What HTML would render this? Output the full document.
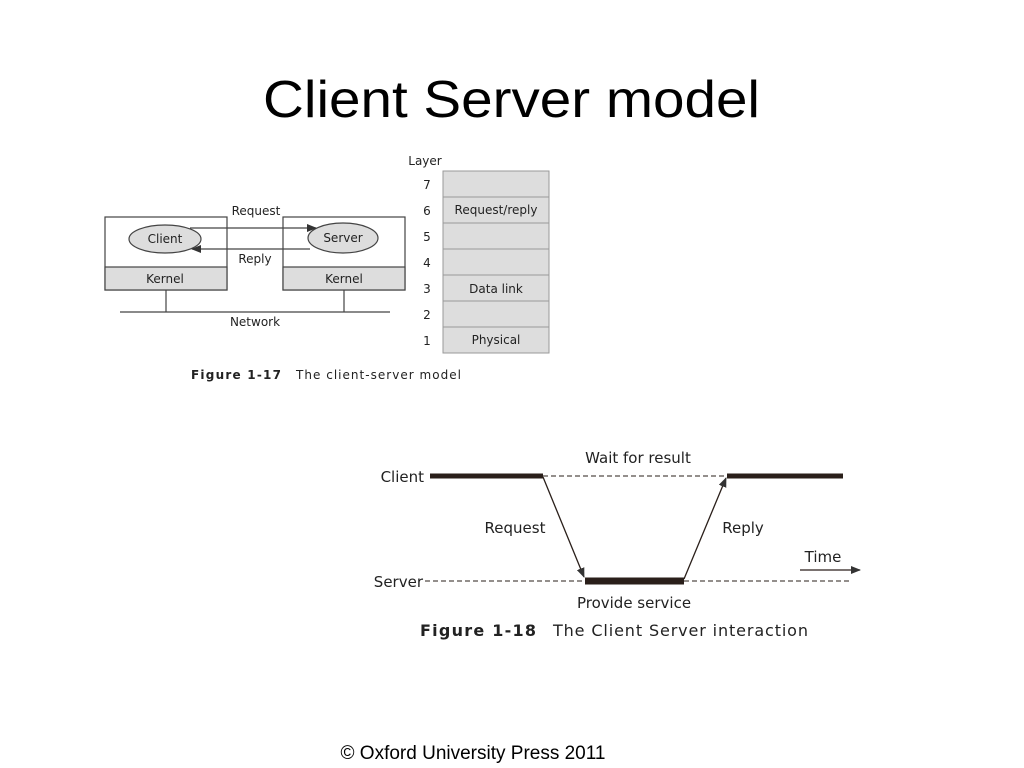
<!DOCTYPE html>
<html><head><meta charset="utf-8"><style>
html,body{margin:0;padding:0;background:#fff;width:1024px;height:768px;overflow:hidden}
svg{display:block}
text{font-family:"DejaVu Sans","Liberation Sans",sans-serif;fill:#222}
</style></head><body>
<svg width="1024" height="768" viewBox="0 0 1024 768">
<defs>
<marker id="ah" markerWidth="10" markerHeight="8" refX="9" refY="4" orient="auto" markerUnits="userSpaceOnUse"><path d="M0,0 L10,4 L0,8 z" fill="#333"/></marker>
</defs>
<text x="263" y="117" textLength="497" lengthAdjust="spacingAndGlyphs" style="font-family:'Liberation Sans',sans-serif;font-size:52px;fill:#000">Client Server model</text>

<!-- Figure 1-17 -->
<g stroke="#444" stroke-width="1.2">
<rect x="105" y="217" width="122" height="73" fill="#fff"/>
<rect x="105" y="267" width="122" height="23" fill="#ddd"/>
<rect x="283" y="217" width="122" height="73" fill="#fff"/>
<rect x="283" y="267" width="122" height="23" fill="#ddd"/>
<ellipse cx="165" cy="239" rx="36" ry="14" fill="#ddd"/>
<ellipse cx="343" cy="238" rx="35" ry="15" fill="#ddd"/>
<line x1="190" y1="228" x2="316" y2="228" marker-end="url(#ah)"/>
<line x1="310" y1="249" x2="192" y2="249" marker-end="url(#ah)"/>
<line x1="120" y1="312" x2="390" y2="312"/>
<line x1="166" y1="290" x2="166" y2="312"/>
<line x1="344" y1="290" x2="344" y2="312"/>
</g>
<g font-size="12">
<text x="165" y="243" text-anchor="middle">Client</text>
<text x="343" y="242" text-anchor="middle">Server</text>
<text x="165" y="283" text-anchor="middle">Kernel</text>
<text x="344" y="283" text-anchor="middle">Kernel</text>
<text x="256" y="215" text-anchor="middle">Request</text>
<text x="255" y="263" text-anchor="middle">Reply</text>
<text x="255" y="326" text-anchor="middle">Network</text>
<text x="425" y="165" text-anchor="middle">Layer</text>
</g>
<g stroke="#999" stroke-width="1" fill="#ddd">
<rect x="443" y="171" width="106" height="26"/>
<rect x="443" y="197" width="106" height="26"/>
<rect x="443" y="223" width="106" height="26"/>
<rect x="443" y="249" width="106" height="26"/>
<rect x="443" y="275" width="106" height="26"/>
<rect x="443" y="301" width="106" height="26"/>
<rect x="443" y="327" width="106" height="26"/>
</g>
<g font-size="12">
<text x="427" y="189" text-anchor="middle">7</text>
<text x="427" y="215" text-anchor="middle">6</text>
<text x="427" y="241" text-anchor="middle">5</text>
<text x="427" y="267" text-anchor="middle">4</text>
<text x="427" y="293" text-anchor="middle">3</text>
<text x="427" y="319" text-anchor="middle">2</text>
<text x="427" y="345" text-anchor="middle">1</text>
<text x="496" y="214" text-anchor="middle">Request/reply</text>
<text x="496" y="293" text-anchor="middle">Data link</text>
<text x="496" y="344" text-anchor="middle">Physical</text>
</g>
<text x="191" y="379" font-size="12" font-weight="bold" textLength="90" lengthAdjust="spacing">Figure 1-17</text>
<text x="296" y="379" font-size="12" textLength="165" lengthAdjust="spacing">The client-server model</text>

<!-- Figure 1-18 -->
<g stroke="#2a1f1a">
<line x1="430" y1="476" x2="543" y2="476" stroke-width="5"/>
<line x1="727" y1="476" x2="843" y2="476" stroke-width="5"/>
<line x1="585" y1="581" x2="684" y2="581" stroke-width="7"/>
<line x1="543" y1="476" x2="727" y2="476" stroke-width="1" stroke-dasharray="5,3"/>
<line x1="425" y1="581" x2="585" y2="581" stroke-width="1" stroke-dasharray="5,3"/>
<line x1="684" y1="581" x2="850" y2="581" stroke-width="1" stroke-dasharray="5,3"/>
<line x1="543" y1="477" x2="584" y2="577" stroke-width="1.3" marker-end="url(#ah)"/>
<line x1="684" y1="579" x2="726" y2="478" stroke-width="1.3" marker-end="url(#ah)"/>
<line x1="800" y1="570" x2="860" y2="570" stroke-width="1.3" marker-end="url(#ah)"/>
</g>
<g font-size="15">
<text x="424" y="482" text-anchor="end">Client</text>
<text x="423" y="587" text-anchor="end">Server</text>
<text x="638" y="463" text-anchor="middle">Wait for result</text>
<text x="515" y="533" text-anchor="middle">Request</text>
<text x="743" y="533" text-anchor="middle">Reply</text>
<text x="823" y="562" text-anchor="middle">Time</text>
<text x="634" y="608" text-anchor="middle">Provide service</text>
</g>
<text x="420" y="636" font-size="16" font-weight="bold" textLength="116" lengthAdjust="spacing">Figure 1-18</text>
<text x="553" y="636" font-size="16" textLength="255" lengthAdjust="spacing">The Client Server interaction</text>

<text x="473" y="759" text-anchor="middle" style="font-family:'Liberation Sans',sans-serif;font-size:19px;fill:#000">© Oxford University Press 2011</text>
</svg>
</body></html>
